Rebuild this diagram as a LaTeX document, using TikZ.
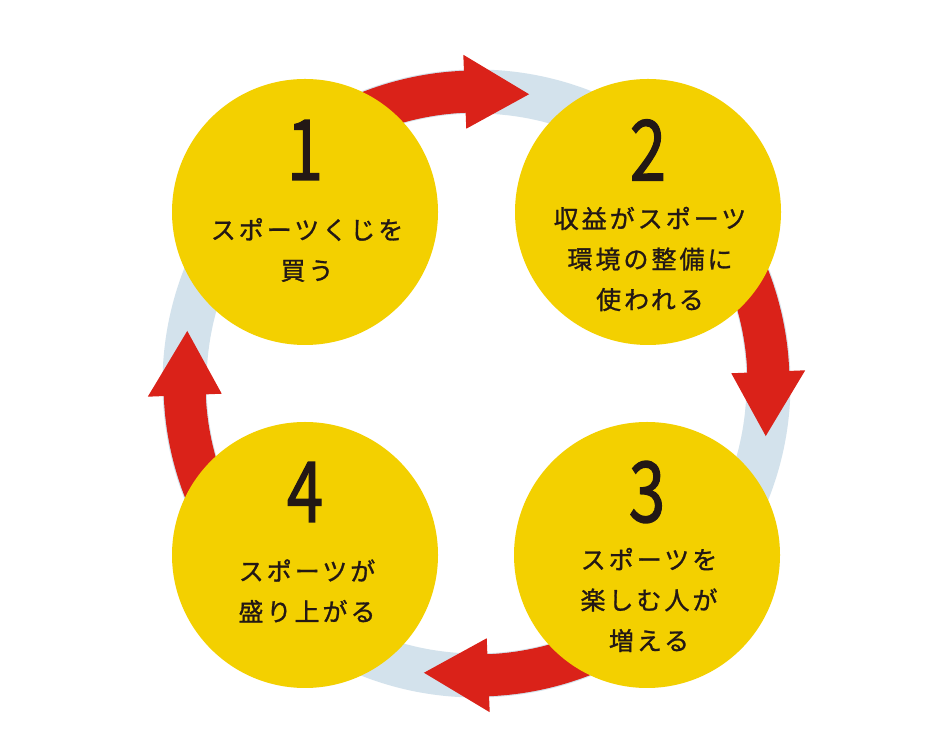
\documentclass[tikz,border=0pt]{standalone}
\usepackage{fontspec}
\usepackage{graphicx}
\setmainfont{Noto Sans CJK JP}
\newfontfamily\jpfont[LetterSpace=12,FakeBold=1.1]{Noto Sans CJK JP}
\newfontfamily\numfont[FakeBold=1.6]{Noto Sans CJK JP}
\definecolor{ringblue}{HTML}{D3E2EC}
\definecolor{arrowred}{HTML}{DA2219}
\definecolor{discyellow}{HTML}{F3D000}
\definecolor{inkdark}{HTML}{231815}
\tikzset{
  disc/.style={circle, fill=discyellow, minimum size=266pt, inner sep=0pt},
  stepnum/.style={text=inkdark, font=\numfont\fontsize{84}{84}\selectfont, inner sep=0pt},
  steptext/.style={text=inkdark, font=\jpfont\fontsize{25}{40.5}\selectfont, align=center, inner sep=0pt},
  ringband/.style={draw=ringblue, line width=44pt},
  cyclearrow/.style={fill=arrowred}
}
\newcommand{\cyclearrowpath}{%
  (125:313) arc[start angle=125, end angle=92.3, radius=313]
  -- (92.3:329) -- (79.7:294) -- (92.3:255) -- (92.3:271)
  arc[start angle=92.3, end angle=125, radius=271] -- cycle}
\begin{document}
\begin{tikzpicture}[x=1pt,y=1pt]
\useasboundingbox (0,0) rectangle (947,746);
\fill[white] (0,0) rectangle (947,746);
\coordinate (ctr) at (476.5,362.5);
% light blue ring
\draw[ringband] (ctr) circle[radius=292];
% red arrows along the ring
\foreach \k in {0,1,2,3}{
  \begin{scope}[shift={(ctr)}, rotate=-90*\k]
    \fill[cyclearrow] \cyclearrowpath;
  \end{scope}
}
% discs
\node[disc] (c1) at (305,534) {};
\node[disc] (c2) at (648,534) {};
\node[disc] (c3) at (647,191) {};
\node[disc] (c4) at (305,191) {};
% numbers
\node[stepnum] (n1) at (305,596) {\scalebox{0.78}[1]{1}};
\node[stepnum] (n2) at (648,596) {\scalebox{0.78}[1]{2}};
\node[stepnum] (n3) at (647,254) {\scalebox{0.78}[1]{3}};
\node[stepnum] (n4) at (305,254) {\scalebox{0.78}[1]{4}};
% texts
\node[steptext] (t1) at (307,496) {スポーツくじを\\買う};
\node[steptext] (t2) at (650,487) {収益がスポーツ\\環境の整備に\\使われる};
\node[steptext] (t3) at (649,146) {スポーツを\\楽しむ人が\\増える};
\node[steptext] (t4) at (307,155) {スポーツが\\盛り上がる};
\end{tikzpicture}
\end{document}
